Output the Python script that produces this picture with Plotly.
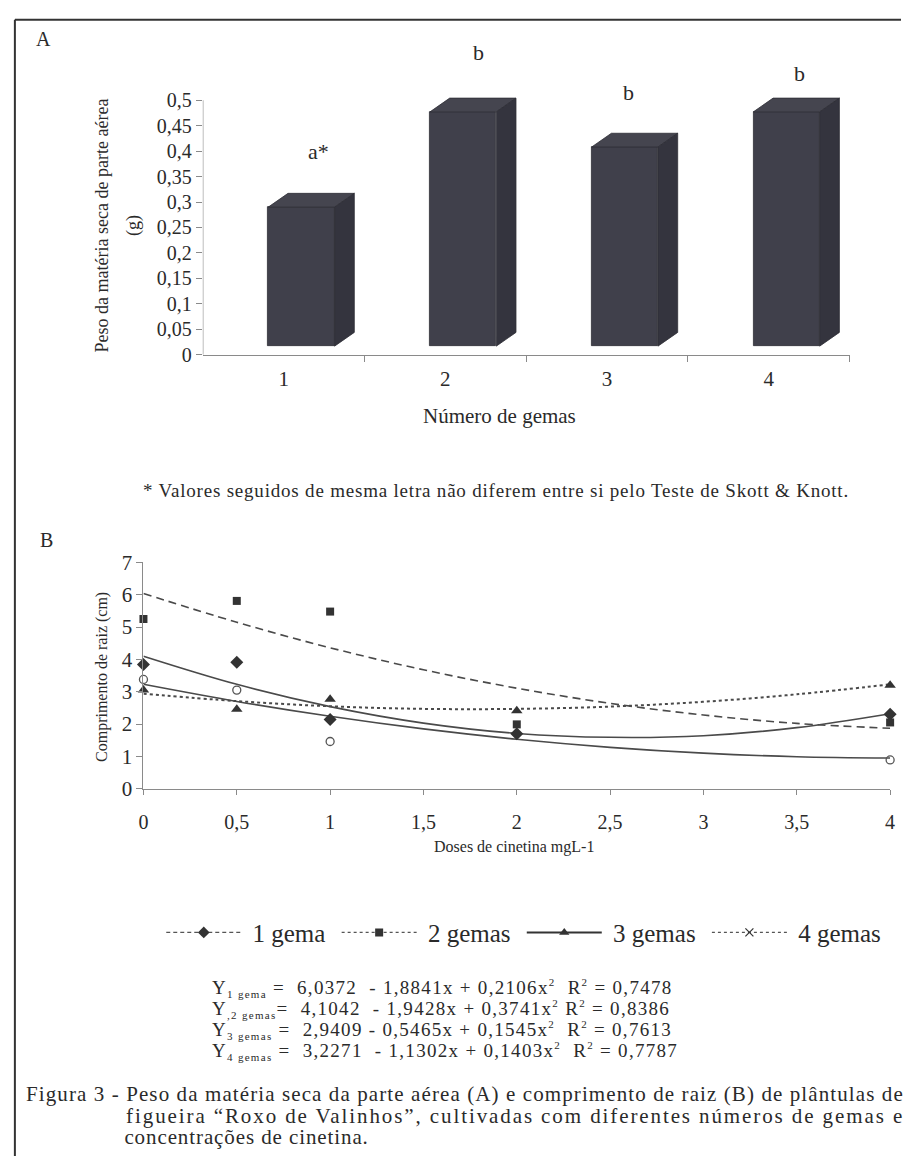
import plotly.graph_objects as go

W, H = 906, 1168
def fx(px): return px / W
def fy(py): return 1 - py / H

FONT = "Liberation Serif"
INK = "#2a2a2a"

# ---------------- data: panel A ----------------
gemas = [1, 2, 3, 4]
gema_labels = ["1", "2", "3", "4"]
peso = [0.29, 0.477, 0.408, 0.477]
letters = ["a*", "b", "b", "b"]
yA_ticks = [0, 0.05, 0.1, 0.15, 0.2, 0.25, 0.3, 0.35, 0.4, 0.45, 0.5]
yA_ticktext = ["0", "0,05", "0,1", "0,15", "0,2", "0,25", "0,3", "0,35", "0,4", "0,45", "0,5"]

# ---------------- data: panel B ----------------
doses = [0, 0.5, 1, 2, 4]
g1_pts = [3.84, 3.91, 2.14, 1.70, 2.30]
g2_pts = [5.25, 5.81, 5.48, 1.99, 2.05]
g3_pts = [3.05, 2.46, 2.77, 2.41, 3.20]
g4_pts = [3.38, 3.05, 1.46, None, 0.89]

fit_x = [0, 0.5, 1, 1.5, 2, 2.5, 3, 3.5, 4]
fit_1 = [6.04, 5.15, 4.36, 3.68, 3.11, 2.64, 2.28, 2.02, 1.87]
fit_2 = [4.10, 3.23, 2.54, 2.03, 1.71, 1.59, 1.64, 1.89, 2.32]
fit_3 = [2.94, 2.71, 2.55, 2.47, 2.47, 2.54, 2.69, 2.92, 3.23]
fit_4 = [3.23, 2.70, 2.24, 1.85, 1.53, 1.28, 1.10, 0.99, 0.95]

xB_ticks = [0, 0.5, 1, 1.5, 2, 2.5, 3, 3.5, 4]
xB_ticktext = ["0", "0,5", "1", "1,5", "2", "2,5", "3", "3,5", "4"]

series_names = ["1 gema", "2 gemas", "3 gemas", "4 gemas"]
def sub(s):
    return "<sub><span style='font-size:11px'>" + s + "</span></sub>"
SQ = "<sup><span style='font-size:11px'>2</span></sup>"
equations = [
    "Y" + sub("1 gema") + " =\u00a0 6,0372\u00a0 - 1,8841x + 0,2106x" + SQ + "\u00a0 R" + SQ + " = 0,7478",
    "Y" + sub(",2 gemas") + "=\u00a0 4,1042\u00a0 - 1,9428x + 0,3741x" + SQ + " R" + SQ + " = 0,8386",
    "Y" + sub("3 gemas") + " =\u00a0 2,9409 - 0,5465x + 0,1545x" + SQ + "\u00a0 R" + SQ + " = 0,7613",
    "Y" + sub("4 gemas") + " =\u00a0 3,2271\u00a0 - 1,1302x + 0,1403x" + SQ + "\u00a0 R" + SQ + " = 0,7787",
]
caption = [
    "Figura 3 - Peso da matéria seca da parte aérea (A) e comprimento de raiz (B) de plântulas de",
    "figueira “Roxo de Valinhos”, cultivadas com diferentes números de gemas e",
    "concentrações de cinetina.",
]

fig = go.Figure()

# ---------------- panel A: pseudo-3D bars ----------------
base = 0.017
bw = 0.41
off = -0.095
dx, dy = 0.122, 0.027

FRONT, TOP, SIDE = "#40404b", "#45454f", "#34343e"

fig.add_trace(go.Bar(
    x=gemas, y=[v - base for v in peso], base=base, width=bw, offset=off,
    marker=dict(color=FRONT, line=dict(color="#2e2e36", width=0.8)),
    xaxis="x", yaxis="y", showlegend=False, hoverinfo="skip"))

for g, v in zip(gemas, peso):
    L, R = g + off, g + off + bw
    fig.add_trace(go.Scatter(
        x=[L, L + dx, R + dx, R, L], y=[v, v + dy, v + dy, v, v],
        fill="toself", fillcolor=TOP, mode="lines",
        line=dict(color="#2e2e36", width=0.8),
        xaxis="x", yaxis="y", showlegend=False, hoverinfo="skip"))
    fig.add_trace(go.Scatter(
        x=[R, R + dx, R + dx, R, R], y=[base, base + dy, v + dy, v, base],
        fill="toself", fillcolor=SIDE, mode="lines",
        line=dict(color="#2e2e36", width=0.8),
        xaxis="x", yaxis="y", showlegend=False, hoverinfo="skip"))

letter_dx = [0.216, 0.206, 0.13, 0.188]
letter_shift = [41, 45, 40, 24]
for g, v, t, ddx, sh in zip(gemas, peso, letters, letter_dx, letter_shift):
    fig.add_annotation(x=g + ddx, y=v, xref="x", yref="y", text=t, showarrow=False,
                       yshift=sh, yanchor="bottom",
                       font=dict(family=FONT, size=22, color=INK))

# ---------------- panel B ----------------
line_col = "#4a4a4a"
fig.add_trace(go.Scatter(x=fit_x, y=fit_1, mode="lines", line=dict(color=line_col, width=1.6, dash="8px,5px", shape="spline"),
                         xaxis="x2", yaxis="y2", showlegend=False, hoverinfo="skip"))
fig.add_trace(go.Scatter(x=fit_x, y=fit_2, mode="lines", line=dict(color=line_col, width=1.6, shape="spline"),
                         xaxis="x2", yaxis="y2", showlegend=False, hoverinfo="skip"))
fig.add_trace(go.Scatter(x=fit_x, y=fit_3, mode="lines", line=dict(color=line_col, width=2, dash="dot", shape="spline"),
                         xaxis="x2", yaxis="y2", showlegend=False, hoverinfo="skip"))
fig.add_trace(go.Scatter(x=fit_x, y=fit_4, mode="lines", line=dict(color=line_col, width=1.6, shape="spline"),
                         xaxis="x2", yaxis="y2", showlegend=False, hoverinfo="skip"))

pt_col = "#333333"
fig.add_trace(go.Scatter(x=doses, y=g4_pts, mode="markers", cliponaxis=False,
                         marker=dict(symbol="circle-open", size=8, color="#555", line=dict(width=1.3)),
                         xaxis="x2", yaxis="y2", showlegend=False))
fig.add_trace(go.Scatter(x=doses, y=g1_pts, mode="markers", cliponaxis=False,
                         marker=dict(symbol="diamond", size=10, color=pt_col),
                         xaxis="x2", yaxis="y2", showlegend=False))
fig.add_trace(go.Scatter(x=doses, y=g2_pts, mode="markers", cliponaxis=False,
                         marker=dict(symbol="square", size=8, color=pt_col),
                         xaxis="x2", yaxis="y2", showlegend=False))
fig.add_trace(go.Scatter(x=doses, y=g3_pts, mode="markers", cliponaxis=False,
                         marker=dict(symbol="triangle-up", size=10, color=pt_col),
                         xaxis="x2", yaxis="y2", showlegend=False))

leg_styles = [
    dict(line=dict(color="#555", width=1.2, dash="4px,3px"), marker=dict(symbol="diamond", size=9, color=pt_col)),
    dict(line=dict(color="#555", width=1.2, dash="dot"), marker=dict(symbol="square", size=8, color=pt_col)),
    dict(line=dict(color="#333", width=2), marker=dict(symbol="triangle-up", size=9, color=pt_col)),
    dict(line=dict(color="#555", width=1.2, dash="dot"), marker=dict(symbol="x-thin", size=8, color=pt_col, line=dict(width=1.2, color=pt_col))),
]
for name, st in zip(series_names, leg_styles):
    fig.add_trace(go.Scatter(x=[None], y=[None], mode="lines+markers",
                             name="\u00a0" + name + "\u00a0",
                             xaxis="x2", yaxis="y2", **st))

# ---------------- axes ----------------
axis_col = "#8a8a8a"
fig.update_layout(
    xaxis=dict(domain=[fx(200), fx(854)], range=[0.5, 4.5], anchor="y",
               tickvals=gemas, ticktext=gema_labels, ticks="", ticklabelstandoff=5,
               showline=True, linecolor=axis_col, linewidth=1.2, showgrid=False, zeroline=False,
               minor=dict(tickvals=[1.5, 2.5, 3.5, 4.5], ticks="outside", ticklen=6, tickcolor=axis_col),
               tickfont=dict(family=FONT, size=21, color=INK)),
    yaxis=dict(domain=[fy(350), fy(350 - 0.62 * 520)], range=[0, 0.62], anchor="x",
               tickvals=yA_ticks, ticktext=yA_ticktext, ticks="outside", ticklen=6,
               tickcolor=axis_col, showline=False, showgrid=False, zeroline=False,
               tickfont=dict(family=FONT, size=20, color=INK)),
    xaxis2=dict(domain=[fx(140), fx(895)], range=[0, 4], anchor="y2",
                tickvals=xB_ticks, ticktext=xB_ticktext, ticks="outside", ticklen=5,
                tickcolor=axis_col, ticklabelstandoff=10,
                showline=True, linecolor=axis_col, linewidth=1.2, showgrid=False, zeroline=False,
                tickfont=dict(family=FONT, size=20, color=INK)),
    yaxis2=dict(domain=[fy(793), fy(562)], range=[0, 7], anchor="x2", dtick=1,
                ticks="outside", ticklen=6, tickcolor=axis_col,
                showline=True, linecolor=axis_col, linewidth=1.2, showgrid=False, zeroline=False,
                tickfont=dict(family=FONT, size=21, color=INK)),
)

shapes = [
    dict(type="line", xref="x", yref="y", x0=0.5, x1=0.5, y0=0, y1=0.5,
         line=dict(color=axis_col, width=1.2)),
    dict(type="line", xref="paper", yref="paper", x0=fx(10), x1=fx(906), y0=fy(8), y1=fy(8),
         line=dict(color="#333", width=2)),
    dict(type="line", xref="paper", yref="paper", x0=fx(10), x1=fx(10), y0=fy(8), y1=fy(1168),
         line=dict(color="#333", width=2)),
]

def txt(x, y, s, size, xanchor="center", yanchor="middle", angle=0, ls=None, align="center"):
    if ls is not None:
        s = "<span style='letter-spacing:%spx'>%s</span>" % (ls, s)
    fig.add_annotation(x=fx(x), y=fy(y), xref="paper", yref="paper", text=s, showarrow=False,
                       xanchor=xanchor, yanchor=yanchor, textangle=angle, borderpad=0, align=align,
                       font=dict(family=FONT, size=size, color=INK))

txt(39, 28, "A", 20)
txt(98, 218, "Peso da matéria seca de parte aérea", 18, angle=-90)
txt(130, 218, "(g)", 18, angle=-90)
txt(500, 412, "Número de gemas", 21)
txt(496, 489, "* Valores seguidos de mesma letra não diferem entre si pelo Teste de Skott &amp; Knott.", 19, ls=0.8)
txt(42, 539, "B", 20)
txt(98, 679, "Comprimento de raiz (cm)", 16, angle=-90)
txt(515, 853, "Doses de cinetina mgL-1", 16)

eq_block = "<br>".join("<span style='font-size:19px;letter-spacing:1.3px'>%s</span>" % e for e in equations)
txt(208, 1029, eq_block, 16.2, xanchor="left", align="left")

# caption: one block, hanging indent made of non-breaking spaces
cap_lines = [
    "<span style='font-size:21px;letter-spacing:1.1px'>%s</span>" % caption[0],
    "<span style='font-size:21px;letter-spacing:1.9px'>%s%s</span>" % ("\u00a0" * 14, caption[1]),
    "<span style='font-size:21px;letter-spacing:0.9px'>%s%s</span>" % ("\u00a0" * 16, caption[2]),
]
txt(20, 1127, "<br>".join(cap_lines), 16.6, xanchor="left", align="left")

fig.update_layout(
    width=W, height=H, margin=dict(l=0, r=0, t=0, b=0),
    paper_bgcolor="white", plot_bgcolor="white",
    shapes=shapes,
    showlegend=True,
    legend=dict(orientation="h", x=fx(158), y=fy(940), xanchor="left", yanchor="middle",
                font=dict(family=FONT, size=25, color=INK), itemwidth=75,
                bgcolor="rgba(0,0,0,0)", traceorder="normal"),
    bargap=0,
)

fig.write_html("out.html", config={"displayModeBar": False},
               post_script="document.body.style.margin='0';document.body.style.overflow='hidden';")
